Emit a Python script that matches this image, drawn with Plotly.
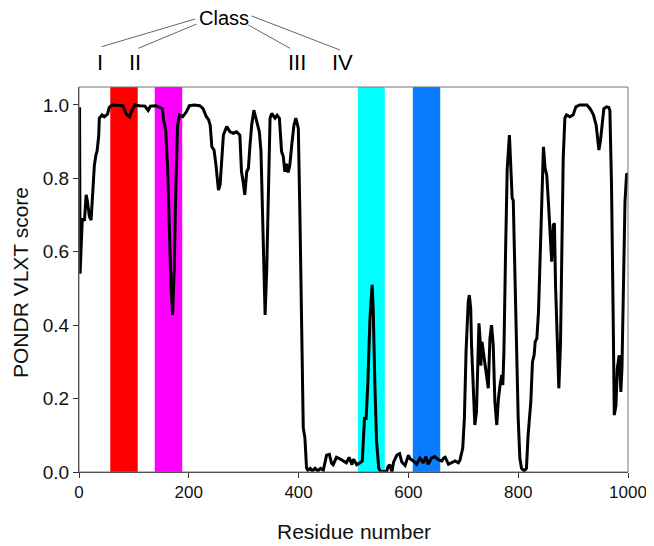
import plotly.graph_objects as go

# ---- data ----
residue = [0, 1, 2, 4, 6, 10, 13, 15, 19, 22, 25, 28, 31, 33, 36, 37, 42, 46, 52, 55,
           60, 70, 80, 86, 92, 98, 102, 110, 120, 126, 130, 140, 152, 154, 158, 161.5,
           164.5, 167.5, 170.5, 173.5, 176.5, 179.5, 183, 189, 195, 201, 210, 220, 226,
           232, 236, 239, 242, 246, 249.5, 254, 257, 260, 263, 269, 275, 281, 287, 293,
           296, 299, 302, 305.5, 308.5, 311.5, 314.5, 318.5, 323.5, 328.5, 331.5, 334.5,
           337, 339, 342, 345, 348, 351, 354, 357, 361, 365, 369, 372, 375, 378, 381,
           384, 387.5, 391.5, 395, 399.5, 402.5, 405.5, 408.5, 411.5, 414.5, 417, 421,
           425, 430, 435, 440, 445, 451, 456, 460, 463, 469, 475, 481, 487, 492, 497,
           500, 506, 512, 516, 520, 523, 526, 530, 534, 536, 539, 542, 546, 550, 555,
           560, 563, 566, 570, 573, 579, 584, 588, 594, 600, 603, 609, 615, 621, 627,
           632, 636, 642, 648, 655, 661, 664, 667, 673, 679, 685, 691, 694, 699, 702,
           705, 707.5, 709, 711, 713.5, 715, 718, 721, 724, 726, 728.5, 730.5, 732, 734,
           736.5, 739.5, 742.5, 745.5, 748.5, 751.5, 754.5, 757.5, 761, 764, 767, 770,
           772, 774, 777, 780, 784, 786, 789, 791, 794, 797, 800, 803, 806, 811, 815,
           818, 823, 826, 829, 831, 834, 837, 840, 843, 846, 849, 852, 855, 858, 861,
           864, 866, 868, 871, 874, 877, 880, 882, 885, 888, 894, 900, 905, 912, 925,
           931, 937, 942, 944, 947, 950, 954, 956, 961, 965, 967, 970, 973, 975, 978,
           980.5, 984, 987, 989, 991.5, 994.5, 997.5, 1000]
score = [0.99, 0.99, 0.54, 0.63, 0.69, 0.685, 0.755, 0.74, 0.696, 0.686, 0.78, 0.836,
         0.865, 0.875, 0.918, 0.964, 0.973, 0.968, 0.975, 0.993,
         1.0, 1.0, 0.998, 0.975, 0.968, 0.99, 1.0, 0.998, 0.997, 0.985, 0.997, 0.998,
         0.99, 0.96, 0.93, 0.828,
         0.646, 0.51, 0.428, 0.555, 0.78, 0.945, 0.972, 0.968, 0.98, 0.998, 1.0, 0.998,
         0.99, 0.968, 0.96, 0.945, 0.886, 0.877, 0.836, 0.768, 0.782, 0.855, 0.918,
         0.941, 0.927, 0.923, 0.927, 0.918,
         0.818, 0.791, 0.755, 0.818, 0.827, 0.891, 0.945, 0.986, 0.955, 0.927, 0.873,
         0.691,
         0.51, 0.428, 0.555, 0.78, 0.964, 0.977, 0.97, 0.964, 0.972, 0.964, 0.873, 0.86,
         0.818, 0.84, 0.816,
         0.836, 0.891, 0.945, 0.964, 0.936, 0.69, 0.42, 0.12, 0.093, 0.01, 0.005, 0.01,
         0.003, 0.01, 0.003, 0.01, 0.005, 0.046, 0.048, 0.024, 0.02, 0.04, 0.036, 0.03,
         0.025, 0.04, 0.02,
         0.035, 0.02, 0.025, 0.03, 0.146, 0.146, 0.237, 0.419, 0.51, 0.437, 0.237, 0.083,
         0.01, 0.0, 0.002,
         0.0, 0.015, 0.02, 0.0, 0.027, 0.046, 0.05, 0.027, 0.018, 0.046, 0.036, 0.03,
         0.021, 0.038, 0.025,
         0.042, 0.021, 0.038, 0.042, 0.033, 0.03, 0.038, 0.04, 0.021, 0.025, 0.03, 0.025,
         0.033, 0.065, 0.147,
         0.328, 0.4, 0.464, 0.482, 0.445, 0.346, 0.237, 0.128, 0.164, 0.282, 0.405, 0.364,
         0.29, 0.355,
         0.328, 0.3, 0.255, 0.228, 0.364, 0.4, 0.346, 0.192, 0.128, 0.2, 0.237, 0.264,
         0.237, 0.328, 0.6, 0.827, 0.918, 0.827, 0.746, 0.74, 0.51, 0.328, 0.146, 0.038,
         0.01, 0.003, 0.01,
         0.1, 0.192, 0.3, 0.318, 0.355, 0.364, 0.437, 0.6, 0.782, 0.886, 0.827, 0.809,
         0.736, 0.655, 0.573,
         0.673, 0.678, 0.51, 0.328, 0.228, 0.346, 0.6, 0.855, 0.964, 0.973, 0.968, 0.973,
         0.995, 1.0, 1.0,
         0.99, 0.973, 0.945, 0.918, 0.877, 0.905, 0.964, 0.99, 0.995, 0.993, 0.985, 0.78,
         0.42, 0.155, 0.18,
         0.282, 0.318, 0.218, 0.282, 0.51, 0.736, 0.813, 0.81]

class_labels = ["I", "II", "III", "IV"]
class_start = [57, 138, 508, 608]
class_end = [107, 188, 557, 658]
class_colors = ["#FF0000", "#FF00FF", "#00FFFF", "#0A7CFF"]

x_ticks = [0, 200, 400, 600, 800, 1000]
y_ticks = [0.0, 0.2, 0.4, 0.6, 0.8, 1.0]

# ---- figure ----
OFF = 8  # page body margin in the browser
W, H = 654 - OFF, 546 - OFF
L, R, T, B = 79 - OFF, 26, 87 - OFF, 74
pw, ph = W - L - R, H - T - B


def px(x):
    return (x - OFF - L) / pw


def py(y):
    return (H - B - (y - OFF)) / ph


font_main = "Liberation Sans, Arial, sans-serif"

fig = go.Figure()
fig.add_trace(go.Scatter(x=residue, y=score, mode="lines",
                         line=dict(color="black", width=3), showlegend=False))

shapes = []
for s, e, c in zip(class_start, class_end, class_colors):
    shapes.append(dict(type="rect", xref="x", yref="paper", x0=s, x1=e, y0=0, y1=1,
                       fillcolor=c, line=dict(width=0), layer="below"))
# frame
shapes.append(dict(type="rect", xref="paper", yref="paper", x0=0, x1=1, y0=0, y1=1,
                   line=dict(color="#777777", width=1), fillcolor="rgba(0,0,0,0)"))

# connector lines from "Class" to the labels (pixel positions in the target)
connectors = [((195, 19), (101.7, 46.7)),
              ((196.7, 24), (138.3, 48.3)),
              ((248.3, 25), (290, 48.3)),
              ((251.7, 16), (340, 50))]
for (x0, y0), (x1, y1) in connectors:
    shapes.append(dict(type="line", xref="paper", yref="paper",
                       x0=px(x0), y0=py(y0), x1=px(x1), y1=py(y1),
                       line=dict(color="#666666", width=1)))

annotations = [dict(text="Class", xref="paper", yref="paper", x=px(224), y=py(18),
                    showarrow=False, xanchor="center", yanchor="middle",
                    font=dict(size=20, color="black"))]
label_px = [99.5, 135, 297, 342]
for lab, lx in zip(class_labels, label_px):
    annotations.append(dict(text=lab, xref="paper", yref="paper", x=px(lx), y=py(63),
                            showarrow=False, xanchor="center", yanchor="middle",
                            font=dict(size=22, color="black")))
# axis titles
annotations.append(dict(text="Residue number", xref="paper", yref="paper",
                        x=px(353.5), y=py(531), showarrow=False,
                        xanchor="center", yanchor="middle",
                        font=dict(size=21, color="#111111")))
annotations.append(dict(text="PONDR VLXT score", xref="paper", yref="paper",
                        x=px(20), y=py(283), showarrow=False, textangle=-90,
                        xanchor="center", yanchor="middle",
                        font=dict(size=21, color="#111111")))

fig.update_layout(
    width=W, height=H,
    margin=dict(l=L, r=R, t=T, b=B, pad=0, autoexpand=False),
    paper_bgcolor="white", plot_bgcolor="white",
    font=dict(family=font_main, color="black"),
    shapes=shapes, annotations=annotations,
    xaxis=dict(range=[0, 1000], tickvals=x_ticks, ticks="outside", ticklen=5,
               tickcolor="#333333", showline=True, linecolor="#333333", linewidth=1,
               showgrid=False, zeroline=False, automargin=False,
               tickfont=dict(size=17, color="#111111")),
    yaxis=dict(range=[0, 1.049], tickvals=y_ticks, tickformat=".1f", ticks="outside",
               ticklen=5, tickcolor="#333333", showline=True, linecolor="#333333",
               linewidth=1, showgrid=False, zeroline=False, automargin=False,
               tickfont=dict(size=19, color="#111111")),
)

fig.write_html("out.html")
